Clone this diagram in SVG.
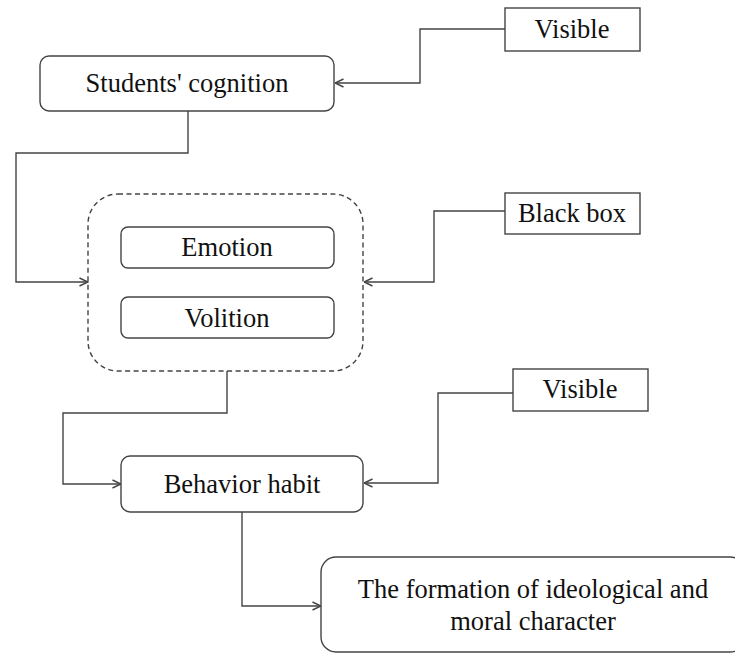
<svg xmlns="http://www.w3.org/2000/svg" width="735" height="653" viewBox="0 0 735 653">
<defs>
<style>
.box{fill:#fff;stroke:#444;stroke-width:1.4}
.dash{fill:none;stroke:#444;stroke-width:1.4;stroke-dasharray:5,3.5}
.conn{fill:none;stroke:#444;stroke-width:1.4}
text{font-family:"Liberation Serif","Times New Roman",serif;font-size:26.5px;fill:#111;text-anchor:middle}
</style>
<marker id="arr" viewBox="0 0 10 10" refX="9.5" refY="5" markerWidth="10" markerHeight="10" markerUnits="userSpaceOnUse" orient="auto">
<path d="M1,1 L9.5,5 L1,9" fill="none" stroke="#444" stroke-width="1.4"/>
</marker>
</defs>
<rect width="735" height="653" fill="#fff"/>
<g id="connectors">
<path class="conn" d="M505,29 H420 V83 H335" marker-end="url(#arr)"/>
<path class="conn" d="M188,111 V153 H16 V282 H88" marker-end="url(#arr)"/>
<path class="conn" d="M505,211 H434 V282 H364" marker-end="url(#arr)"/>
<path class="conn" d="M227,371 V413 H63 V484 H121" marker-end="url(#arr)"/>
<path class="conn" d="M513,393 H438 V483 H364" marker-end="url(#arr)"/>
<path class="conn" d="M242,512 V606 H321" marker-end="url(#arr)"/>
</g>
<g id="students-cognition">
<rect class="box" x="40" y="56" width="294" height="55" rx="9"/>
<text x="187" y="92">Students' cognition</text>
</g>
<g id="visible-top">
<rect class="box" x="505" y="8" width="135" height="43"/>
<text x="572" y="38">Visible</text>
</g>
<g id="black-box-group">
<rect class="dash" x="88" y="194" width="275" height="177" rx="30"/>
</g>
<g id="emotion">
<rect class="box" x="121" y="227" width="213" height="41" rx="7"/>
<text x="227" y="256">Emotion</text>
</g>
<g id="volition">
<rect class="box" x="121" y="297" width="213" height="41" rx="7"/>
<text x="227" y="327">Volition</text>
</g>
<g id="black-box">
<rect class="box" x="505" y="193" width="135" height="41"/>
<text x="572" y="222">Black box</text>
</g>
<g id="visible-bottom">
<rect class="box" x="513" y="369" width="135" height="42"/>
<text x="580" y="398">Visible</text>
</g>
<g id="behavior-habit">
<rect class="box" x="121" y="456" width="242" height="56" rx="9"/>
<text x="242" y="493">Behavior habit</text>
</g>
<g id="formation">
<rect class="box" x="321" y="557" width="424" height="95" rx="15"/>
<text x="533" y="598">The formation of ideological and</text>
<text x="533" y="630">moral character</text>
</g>
</svg>
